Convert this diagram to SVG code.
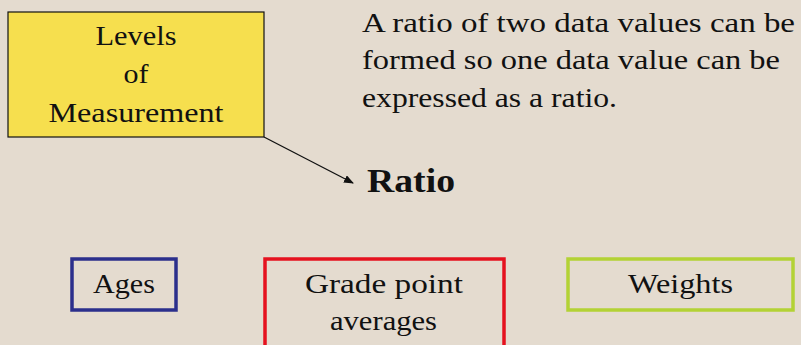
<svg xmlns="http://www.w3.org/2000/svg" width="801" height="345" viewBox="0 0 801 345">
<defs>
<style>
.t{font-family:"Liberation Serif","Times New Roman",serif;font-size:28px;fill:#111;}
.c{text-anchor:middle;}
.box{fill:none;stroke-width:3.5;}
</style>
<marker id="ah" markerWidth="10" markerHeight="8" refX="9" refY="4" orient="auto" markerUnits="userSpaceOnUse">
<path d="M0,0 L10,4 L0,8 Z" fill="#111"/>
</marker>
</defs>
<rect x="0" y="0" width="801" height="345" fill="#e4dbcf"/>
<g id="levels">
<rect x="8" y="12" width="256" height="125" fill="#f6df4e" stroke="#111" stroke-width="1.2"/>
<text class="t c" x="136" y="45" textLength="81" lengthAdjust="spacingAndGlyphs">Levels</text>
<text class="t c" x="136" y="83" textLength="25" lengthAdjust="spacingAndGlyphs">of</text>
<text class="t c" x="136" y="122" textLength="175" lengthAdjust="spacingAndGlyphs">Measurement</text>
</g>
<g id="connectors">
<line x1="264" y1="137" x2="353" y2="183" stroke="#111" stroke-width="1.3" marker-end="url(#ah)"/>
</g>
<g id="ratio">
<text class="t" x="367" y="192" textLength="88" lengthAdjust="spacingAndGlyphs" style="font-size:34px;font-weight:bold">Ratio</text>
</g>
<g id="description">
<text class="t" x="362" y="32" textLength="433" lengthAdjust="spacingAndGlyphs">A ratio of two data values can be</text>
<text class="t" x="362" y="69" textLength="418" lengthAdjust="spacingAndGlyphs">formed so one data value can be</text>
<text class="t" x="362" y="107" textLength="255" lengthAdjust="spacingAndGlyphs">expressed as a ratio.</text>
</g>
<g id="ages">
<rect class="box" x="72" y="259" width="104" height="51" stroke="#2b2f8c"/>
<text class="t" x="93" y="293" textLength="62" lengthAdjust="spacingAndGlyphs">Ages</text>
</g>
<g id="gpa">
<rect class="box" x="265" y="259" width="239" height="100" stroke="#e5121f"/>
<text class="t" x="305" y="293" textLength="158" lengthAdjust="spacingAndGlyphs">Grade point</text>
<text class="t" x="330" y="330" textLength="107" lengthAdjust="spacingAndGlyphs">averages</text>
</g>
<g id="weights">
<rect class="box" x="568" y="259" width="225" height="51" stroke="#b3d235"/>
<text class="t" x="628" y="293" textLength="105" lengthAdjust="spacingAndGlyphs">Weights</text>
</g>
</svg>
